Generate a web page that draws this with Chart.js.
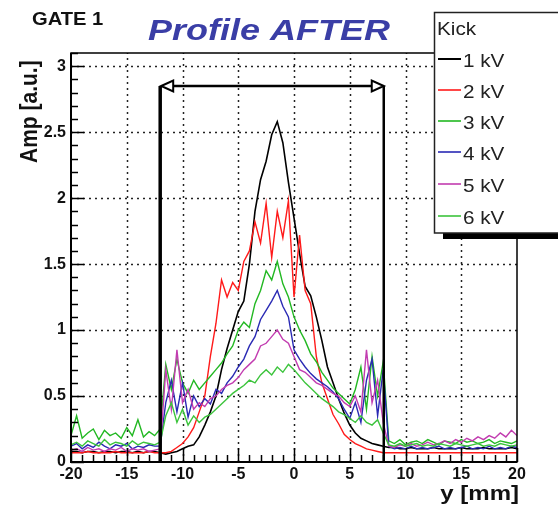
<!DOCTYPE html>
<html>
<head>
<meta charset="utf-8">
<script src="https://cdn.jsdelivr.net/npm/chart.js@4.4.1/dist/chart.umd.min.js"></script>
<style>
  html, body { margin: 0; padding: 0; background: #fff; }
  canvas { display: block; }
</style>
</head>
<body>
<canvas id="profileChart" width="558" height="511"></canvas>
<script>
// bin centres, y [mm]
const yPos = [
  -20,-19.5,-19,-18.5,-18,-17.5,-17,-16.5,-16,-15.5,-15,-14.5,-14,-13.5,-13,-12.5,
  -12,-11.5,-11,-10.5,-10,-9.5,-9,-8.5,-8,-7.5,-7,-6.5,-6,-5.5,-5,-4.5,
  -4,-3.5,-3,-2.5,-2,-1.5,-1,-0.5,0,0.5,1,1.5,2,2.5,3,3.5,
  4,4.5,5,5.5,6,6.5,7,7.5,8,8.5,9,9.5,10,10.5,11,11.5,
  12,12.5,13,13.5,14,14.5,15,15.5,16,16.5,17,17.5,18,18.5,19,19.5,
  20
];

const kick1 = [
  0.08,0.08,0.07,0.08,0.08,0.07,0.08,0.08,0.07,0.08,0.08,0.07,0.08,0.07,0.08,0.08,
  0.07,0.06,0.07,0.08,0.10,0.12,0.13,0.19,0.28,0.38,0.50,0.70,0.86,1.00,1.14,1.22,
  1.50,1.90,2.14,2.28,2.48,2.58,2.42,2.12,1.85,1.58,1.33,1.26,1.10,0.92,0.72,0.60,
  0.48,0.37,0.28,0.22,0.18,0.16,0.14,0.13,0.12,0.11,0.11,0.10,0.10,0.11,0.10,0.10,
  0.10,0.11,0.10,0.10,0.10,0.10,0.11,0.10,0.10,0.10,0.11,0.10,0.10,0.10,0.10,0.11,
  0.10
];
const kick2 = [
  0.07,0.07,0.07,0.08,0.07,0.07,0.07,0.07,0.08,0.07,0.07,0.07,0.07,0.07,0.08,0.07,
  0.07,0.07,0.08,0.11,0.14,0.19,0.26,0.38,0.50,0.80,1.05,1.38,1.25,1.36,1.30,1.52,
  1.60,1.82,1.66,1.96,1.55,1.90,1.70,1.98,1.25,1.72,1.30,1.20,0.80,0.60,0.48,0.36,
  0.29,0.21,0.17,0.14,0.12,0.10,0.09,0.08,0.07,0.07,0.07,0.07,0.07,0.07,0.07,0.07,
  0.07,0.07,0.07,0.07,0.07,0.07,0.07,0.07,0.07,0.07,0.07,0.07,0.07,0.07,0.07,0.07,
  0.07
];
const kick3 = [
  0.20,0.35,0.18,0.22,0.25,0.17,0.24,0.20,0.22,0.18,0.26,0.20,0.32,0.19,0.23,0.20,
  0.25,0.74,0.55,0.78,0.60,0.52,0.62,0.55,0.60,0.65,0.70,0.75,0.82,0.88,1.00,1.06,
  1.02,1.20,1.30,1.45,1.38,1.52,1.35,1.25,1.10,1.00,0.92,0.82,0.76,0.68,0.62,0.56,
  0.52,0.48,0.44,0.55,0.72,0.40,0.80,0.50,0.76,0.16,0.14,0.17,0.13,0.15,0.16,0.14,
  0.17,0.15,0.13,0.16,0.15,0.14,0.17,0.15,0.16,0.14,0.15,0.17,0.14,0.16,0.15,0.14,
  0.16
];
const kick4 = [
  0.12,0.14,0.10,0.13,0.11,0.15,0.12,0.10,0.13,0.12,0.14,0.10,0.12,0.11,0.13,0.12,
  0.12,0.45,0.62,0.38,0.60,0.34,0.50,0.42,0.48,0.44,0.55,0.52,0.60,0.65,0.72,0.78,
  0.88,0.95,1.08,1.15,1.22,1.30,1.18,1.10,0.85,0.78,0.72,0.67,0.63,0.60,0.57,0.53,
  0.48,0.40,0.33,0.45,0.30,0.62,0.78,0.35,0.70,0.12,0.10,0.11,0.10,0.12,0.10,0.11,
  0.10,0.11,0.12,0.10,0.11,0.10,0.11,0.12,0.10,0.11,0.10,0.12,0.10,0.11,0.10,0.12,
  0.11
];
const kick5 = [
  0.09,0.10,0.08,0.11,0.09,0.10,0.08,0.10,0.09,0.11,0.08,0.10,0.09,0.10,0.08,0.09,
  0.10,0.70,0.40,0.85,0.45,0.55,0.40,0.45,0.42,0.48,0.50,0.55,0.58,0.60,0.64,0.70,
  0.74,0.78,0.88,0.90,0.95,1.00,0.93,0.90,0.80,0.70,0.68,0.64,0.60,0.58,0.55,0.52,
  0.50,0.45,0.42,0.50,0.38,0.85,0.45,0.62,0.30,0.12,0.11,0.13,0.12,0.14,0.12,0.13,
  0.15,0.13,0.14,0.16,0.14,0.17,0.15,0.18,0.16,0.19,0.17,0.20,0.18,0.22,0.19,0.24,
  0.20
];
const kick6 = [
  0.13,0.15,0.12,0.16,0.14,0.12,0.17,0.13,0.15,0.14,0.12,0.16,0.13,0.15,0.14,0.13,
  0.15,0.35,0.45,0.30,0.40,0.28,0.35,0.30,0.34,0.36,0.40,0.44,0.48,0.52,0.55,0.58,
  0.62,0.60,0.66,0.70,0.66,0.72,0.68,0.74,0.70,0.65,0.60,0.56,0.52,0.48,0.45,0.42,
  0.38,0.36,0.33,0.30,0.35,0.30,0.28,0.32,0.22,0.13,0.12,0.14,0.12,0.13,0.14,0.12,
  0.13,0.12,0.14,0.13,0.12,0.14,0.13,0.12,0.13,0.14,0.12,0.13,0.12,0.14,0.13,0.12,
  0.13
];

const kickLabels = ['1 kV', '2 kV', '3 kV', '4 kV', '5 kV', '6 kV'];
const kickSeries = [kick1, kick2, kick3, kick4, kick5, kick6];
const kickColors = ['#000000', '#ff1a1a', '#22b822', '#2a2ab4', '#c23cb0', '#3cc43c'];

// gate edges [mm] and arrow level [a.u.]
const gateEdges = [-12, 8.05];
const arrowLevel = 2.85;

const FONT = '"Liberation Sans", Arial, sans-serif';

function stretchText(ctx, text, x, y, font, color, sx) {
  ctx.save();
  ctx.translate(x, y);
  ctx.scale(sx, 1);
  ctx.font = font;
  ctx.fillStyle = color;
  ctx.textBaseline = 'alphabetic';
  ctx.textAlign = 'left';
  ctx.fillText(text, 0, 0);
  ctx.restore();
}

function arrowHead(ctx, tx, ty, dir) {
  const L = 12, H = 5.5;
  ctx.beginPath();
  ctx.moveTo(tx, ty);
  ctx.lineTo(tx - dir * L, ty - H);
  ctx.lineTo(tx - dir * L, ty + H);
  ctx.closePath();
  ctx.fillStyle = '#fff';
  ctx.fill();
  ctx.lineWidth = 2;
  ctx.strokeStyle = '#000';
  ctx.stroke();
}

const rootStyle = {
  id: 'rootStyle',
  beforeDatasetsDraw(chart) {
    const { ctx, chartArea: a, scales: { x, y } } = chart;
    ctx.save();
    ctx.strokeStyle = '#222';
    ctx.lineWidth = 1.5;
    ctx.setLineDash([2, 4]);
    for (let v = -15; v <= 15; v += 5) {
      const px = Math.round(x.getPixelForValue(v)) + 0.5;
      ctx.beginPath(); ctx.moveTo(px, a.bottom); ctx.lineTo(px, a.top); ctx.stroke();
    }
    for (let k = 1; k <= 6; k++) {
      const py = Math.round(y.getPixelForValue(k * 0.5)) + 0.5;
      ctx.beginPath(); ctx.moveTo(a.left, py); ctx.lineTo(a.right, py); ctx.stroke();
    }
    ctx.restore();
  },
  afterDatasetsDraw(chart) {
    const { ctx, chartArea: a, scales: { x, y } } = chart;
    ctx.save();
    // gate markers
    const xl = x.getPixelForValue(gateEdges[0]);
    const xr = x.getPixelForValue(gateEdges[1]);
    const yb = y.getPixelForValue(0);
    const ya = y.getPixelForValue(arrowLevel);
    ctx.strokeStyle = '#000';
    ctx.lineWidth = 3.5;
    ctx.beginPath(); ctx.moveTo(xl, yb); ctx.lineTo(xl, ya); ctx.stroke();
    ctx.lineWidth = 2.5;
    ctx.beginPath(); ctx.moveTo(xr, yb); ctx.lineTo(xr, ya); ctx.stroke();
    ctx.lineWidth = 2.5;
    ctx.beginPath(); ctx.moveTo(xl + 8, ya); ctx.lineTo(xr - 8, ya); ctx.stroke();
    arrowHead(ctx, xl + 1, ya, -1);
    arrowHead(ctx, xr, ya, 1);

    // frame
    ctx.lineWidth = 1.5;
    ctx.strokeRect(a.left, a.top, a.right - a.left, a.bottom - a.top);
    ctx.lineWidth = 2;
    ctx.beginPath();
    ctx.moveTo(a.left, a.top); ctx.lineTo(a.left, a.bottom); ctx.lineTo(a.right, a.bottom);
    ctx.stroke();

    // ticks
    ctx.lineWidth = 1.5;
    for (let k = 0; k <= 31; k++) {
      const py = Math.round(y.getPixelForValue(k / 10)) + 0.5;
      const len = k % 5 === 0 ? 13 : 7;
      ctx.beginPath(); ctx.moveTo(a.left, py); ctx.lineTo(a.left + len, py); ctx.stroke();
    }
    for (let v = -20; v <= 20; v++) {
      const px = Math.round(x.getPixelForValue(v)) + 0.5;
      const len = v % 5 === 0 ? 14 : 7;
      ctx.beginPath(); ctx.moveTo(px, a.bottom); ctx.lineTo(px, a.bottom - len); ctx.stroke();
    }
    ctx.restore();
  },
  afterDraw(chart) {
    const { ctx } = chart;
    ctx.save();
    stretchText(ctx, 'GATE 1', 32, 25, 'bold 18px ' + FONT, '#111', 1.12);
    stretchText(ctx, 'Profile AFTER', 148, 40, 'italic bold 30px ' + FONT, '#3a3ea6', 1.2);

    // axis titles
    ctx.save();
    ctx.translate(37, 163);
    ctx.rotate(-Math.PI / 2);
    ctx.scale(1, 1.12);
    ctx.font = 'bold 21px ' + FONT;
    ctx.fillStyle = '#111';
    ctx.textAlign = 'left';
    ctx.textBaseline = 'alphabetic';
    ctx.fillText('Amp [a.u.]', 0, 0);
    ctx.restore();

    ctx.save();
    ctx.translate(519, 500);
    ctx.scale(1.2, 1);
    ctx.font = 'bold 20px ' + FONT;
    ctx.fillStyle = '#111';
    ctx.textAlign = 'right';
    ctx.fillText('y [mm]', 0, 0);
    ctx.restore();

    // legend box with shadow
    ctx.fillStyle = '#000';
    ctx.fillRect(443, 233, 120, 6);
    ctx.fillStyle = '#fff';
    ctx.fillRect(434, 12, 130, 221);
    ctx.strokeStyle = '#222';
    ctx.lineWidth = 1.5;
    ctx.strokeRect(434.5, 12.5, 130, 220.5);
    stretchText(ctx, 'Kick', 437, 35, '18px ' + FONT, '#222', 1.15);
    const rows = [59, 90, 121, 152, 184, 216];
    chart.data.datasets.forEach((ds, i) => {
      ctx.strokeStyle = ds.borderColor;
      ctx.lineWidth = i === 0 ? 2 : 1.6;
      ctx.beginPath(); ctx.moveTo(438, rows[i]); ctx.lineTo(461, rows[i]); ctx.stroke();
      stretchText(ctx, ds.label, 463, rows[i] + 7.5, '18px ' + FONT, '#222', 1.15);
    });
    ctx.restore();
  }
};

const datasets = kickSeries.map((s, i) => ({
  label: kickLabels[i],
  data: yPos.map((v, j) => ({ x: v, y: s[j] })),
  borderColor: kickColors[i],
  backgroundColor: kickColors[i],
  borderWidth: i === 0 ? 1.6 : 1.4,
  pointRadius: 0,
  tension: 0,
  fill: false,
  order: 5 - i
}));

new Chart(document.getElementById('profileChart').getContext('2d'), {
  type: 'line',
  data: { datasets: datasets },
  options: {
    responsive: false,
    animation: false,
    events: [],
    layout: { padding: { top: 53, right: 41, left: 0, bottom: 0 } },
    plugins: { legend: { display: false }, tooltip: { enabled: false }, title: { display: false } },
    scales: {
      x: {
        type: 'linear',
        min: -20,
        max: 20,
        afterFit: (s) => { s.height = 49; },
        grid: { display: false, drawTicks: false },
        border: { display: false },
        ticks: {
          stepSize: 5,
          padding: 3,
          maxRotation: 0,
          color: '#111',
          font: { family: FONT, size: 16, weight: 'bold' },
          callback: (v) => String(v)
        }
      },
      y: {
        type: 'linear',
        min: 0,
        max: 3.1,
        afterFit: (s) => { s.width = 71; },
        grid: { display: false, drawTicks: false },
        border: { display: false },
        ticks: {
          stepSize: 0.5,
          includeBounds: false,
          padding: 5,
          color: '#111',
          font: { family: FONT, size: 16, weight: 'bold' },
          callback: (v) => String(v)
        }
      }
    }
  },
  plugins: [rootStyle]
});
</script>
</body>
</html>
